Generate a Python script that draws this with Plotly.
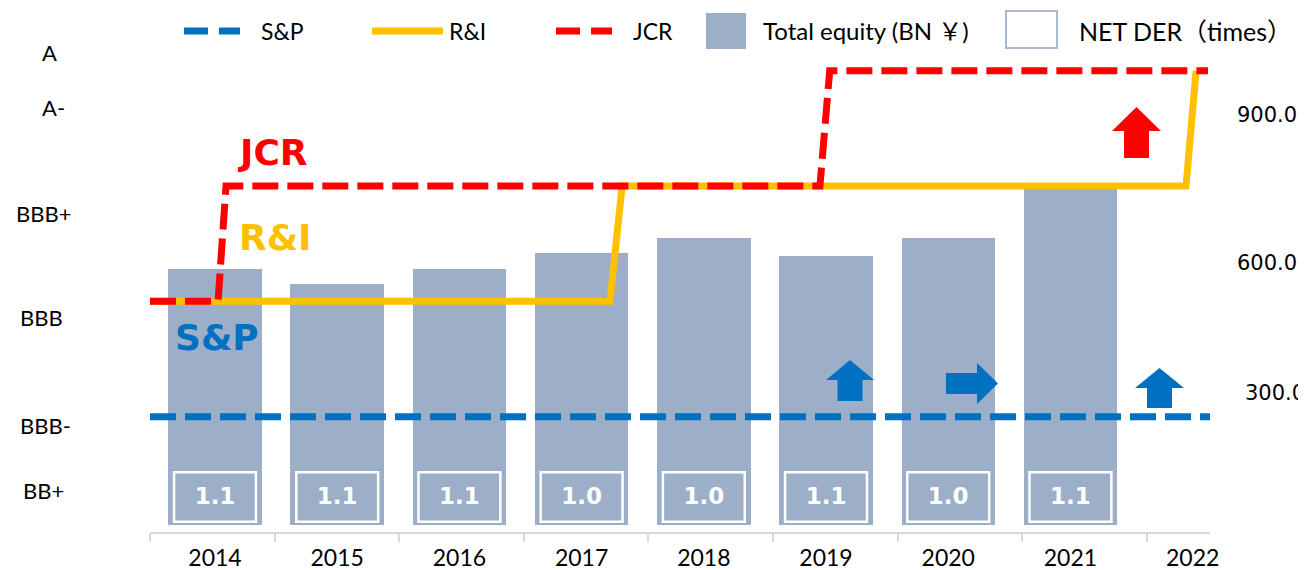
import plotly.graph_objects as go

# ---------------- data ----------------
years = [2014, 2015, 2016, 2017, 2018, 2019, 2020, 2021, 2022]
year_labels = ["2014", "2015", "2016", "2017", "2018", "2019", "2020", "2021", "2022"]

equity_years = [2014, 2015, 2016, 2017, 2018, 2019, 2020, 2021]
total_equity = [562, 530, 561, 598, 631, 590, 631, 745]          # BN yen
net_der = [1.1, 1.1, 1.1, 1.0, 1.0, 1.1, 1.0, 1.1]               # times

rating_scale = ["BB+", "BBB-", "BBB", "BBB+", "A-", "A"]
rating_level = {r: i for i, r in enumerate(rating_scale)}

# rating histories (time in fractional years, rating at that time)
sp_dates = [2013.468, 2022.142]
sp_ratings = ["BBB-", "BBB-"]
ri_dates = [2013.468, 2017.232, 2017.331, 2021.946, 2022.028]
ri_ratings = ["BBB", "BBB", "BBB+", "BBB+", "A-"]
jcr_dates = [2013.468, 2014.025, 2014.090, 2018.950, 2019.030, 2022.126]
jcr_ratings = ["BBB", "BBB", "BBB+", "BBB+", "A-", "A-"]

right_labels = ["900.0", "600.0", "300.0"]

# ---------------- styles ----------------
BAR = "#9DAFC8"
BLUE = "#0070C0"
GOLD = "#FFC000"
RED = "#FF0000"
FONT = "Lato, 'Noto Sans CJK JP', sans-serif"
BOLD = "'DejaVu Sans', sans-serif"

OFF = 8  # page body margin
W, H = 1306 - OFF, 570 - OFF
L, T = 150 - OFF, 40 - OFF
R = W - (1210 - OFF)
B = H - (532 - OFF)
PW, PH = W - L - R, H - T - B


def PX(px):
    return (px - OFF - L) / PW


def PY(py):
    return (H - B - (py - OFF)) / PH


x_range = [2013.468, 2022.142]
eq_range = [-15.4, 1064.6]
rt_range = [0, 4.266]

fig = go.Figure()

fig.add_trace(go.Bar(x=equity_years, y=total_equity, width=0.765,
                     marker=dict(color=BAR, line=dict(width=0)),
                     yaxis="y", name="Total equity (BN ¥)"))

fig.add_trace(go.Scatter(x=equity_years, y=[59] * len(equity_years),
                         text=[f"{v:.1f}" for v in net_der], mode="text",
                         textfont=dict(family=BOLD, size=23, color="white", weight="bold"),
                         yaxis="y", hoverinfo="skip"))

fig.add_trace(go.Scatter(x=sp_dates, y=[rating_level[r] for r in sp_ratings], mode="lines",
                         line=dict(color=BLUE, width=7, dash="26px,9px"), yaxis="y2", name="S&P"))
fig.add_trace(go.Scatter(x=ri_dates, y=[rating_level[r] for r in ri_ratings], mode="lines",
                         line=dict(color=GOLD, width=7), yaxis="y2", name="R&I"))
fig.add_trace(go.Scatter(x=jcr_dates, y=[rating_level[r] for r in jcr_ratings], mode="lines",
                         line=dict(color=RED, width=7, dash="26px,9px"), yaxis="y2", name="JCR"))

shapes = []
# NET DER boxes
for yr in equity_years:
    shapes.append(dict(type="rect", xref="x", yref="y", x0=yr - 0.335, x1=yr + 0.335,
                       y0=7, y1=116, line=dict(color="white", width=2.5), fillcolor="rgba(0,0,0,0)"))


def up_arrow(cx, hw, sw, ay, hb, by, color):
    pts = [(cx - sw, by), (cx - sw, hb), (cx - hw, hb), (cx, ay), (cx + hw, hb), (cx + sw, hb), (cx + sw, by)]
    path = "M " + " L ".join(f"{PX(a):.5f},{PY(b):.5f}" for a, b in pts) + " Z"
    return dict(type="path", xref="paper", yref="paper", path=path, fillcolor=color, line=dict(width=0))


def right_arrow(x0, hx, ax, cy, sh, hh, color):
    pts = [(x0, cy - sh), (hx, cy - sh), (hx, cy - hh), (ax, cy), (hx, cy + hh), (hx, cy + sh), (x0, cy + sh)]
    path = "M " + " L ".join(f"{PX(a):.5f},{PY(b):.5f}" for a, b in pts) + " Z"
    return dict(type="path", xref="paper", yref="paper", path=path, fillcolor=color, line=dict(width=0))


shapes.append(up_arrow(850, 24, 12.5, 360, 380, 401, BLUE))
shapes.append(right_arrow(946, 977, 998, 383.5, 10.5, 20.5, BLUE))
shapes.append(up_arrow(1159.5, 24.5, 12.5, 368, 388, 408, BLUE))
shapes.append(up_arrow(1136.5, 24.5, 12.5, 107, 131, 158, RED))

# legend swatches
shapes.append(dict(type="line", xref="paper", yref="paper", x0=PX(184), x1=PX(240), y0=PY(31), y1=PY(31),
                   line=dict(color=BLUE, width=7, dash="24px,11px")))
shapes.append(dict(type="line", xref="paper", yref="paper", x0=PX(372), x1=PX(443), y0=PY(31), y1=PY(31),
                   line=dict(color=GOLD, width=7)))
shapes.append(dict(type="line", xref="paper", yref="paper", x0=PX(556), x1=PX(612), y0=PY(31), y1=PY(31),
                   line=dict(color=RED, width=7, dash="24px,11px")))
shapes.append(dict(type="rect", xref="paper", yref="paper", x0=PX(706), x1=PX(746), y0=PY(49), y1=PY(13),
                   fillcolor=BAR, line=dict(width=0)))
shapes.append(dict(type="rect", xref="paper", yref="paper", x0=PX(1006), x1=PX(1057), y0=PY(48), y1=PY(11),
                   fillcolor="white", line=dict(color="#A9B9CE", width=2)))

annotations = []
# left rating labels (manually placed text in original)
left_pos = [(43, 490), (45, 425), (41, 317), (43, 213), (53, 108), (50, 53)]
for lab, (cx, cy) in zip(rating_scale, left_pos):
    annotations.append(dict(text=lab, xref="paper", yref="paper", x=PX(cx), y=PY(cy),
                            xanchor="center", yanchor="middle", showarrow=False,
                            font=dict(family=FONT, size=22, color="black")))
right_pos = [(1235, 115), (1235, 263), (1243, 393)]
for lab, (lx, cy) in zip(right_labels, right_pos):
    annotations.append(dict(text=lab, xref="paper", yref="paper", x=PX(lx), y=PY(cy),
                            xanchor="left", yanchor="middle", showarrow=False,
                            font=dict(family="'DejaVu Sans', sans-serif", size=21, color="black")))
# agency labels
for lab, cx, cy, col in [("JCR", 272, 153, RED), ("R&I", 275, 237, GOLD), ("S&P", 217, 337, BLUE)]:
    annotations.append(dict(text=f"<b>{lab}</b>", xref="paper", yref="paper", x=PX(cx), y=PY(cy),
                            xanchor="center", yanchor="middle", showarrow=False,
                            font=dict(family=BOLD, size=36, color=col)))
# legend texts
for lab, lx, fs in [("S&P", 259, 23), ("R&I", 447, 23), ("JCR", 631, 23),
                    ("Total equity (BN ￥)", 761, 24), ("NET DER（times）", 1077, 25)]:
    annotations.append(dict(text=lab, xref="paper", yref="paper", x=PX(lx), y=PY(31),
                            xanchor="left", yanchor="middle", showarrow=False,
                            font=dict(family=FONT, size=fs, color="black")))

# category boundary ticks of the original axis (slightly wider pitch than the bars)
tick_pitch = 1.0195
boundaries = [x_range[0] + k * tick_pitch for k in range(len(years))]

fig.update_layout(
    width=W, height=H,
    margin=dict(l=L, r=R, t=T, b=B, autoexpand=False),
    plot_bgcolor="white", paper_bgcolor="white",
    showlegend=False,
    font=dict(family=FONT, color="black"),
    shapes=shapes, annotations=annotations,
    xaxis=dict(range=x_range, tickmode="array", tickvals=years, ticktext=year_labels,
               showline=True, linecolor="#D9D9D9", linewidth=2, ticks="", automargin=False,
               showgrid=False, zeroline=False, tickfont=dict(family=FONT, size=23, color="black"),
               ticklabelstandoff=4,
               minor=dict(tickmode="array", tickvals=boundaries, ticks="outside", ticklen=8,
                          tickwidth=2, tickcolor="#D9D9D9", showgrid=False)),
    yaxis=dict(range=eq_range, visible=False, showgrid=False, zeroline=False, automargin=False),
    yaxis2=dict(range=rt_range, overlaying="y", side="left", visible=False,
                showgrid=False, zeroline=False, automargin=False),
    bargap=0,
)

fig.write_html("out.html")
